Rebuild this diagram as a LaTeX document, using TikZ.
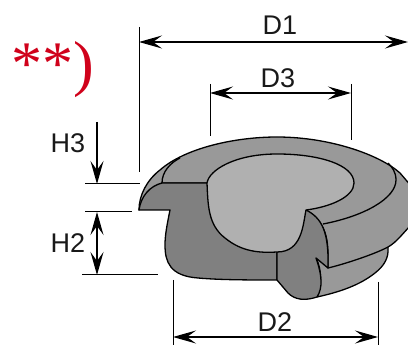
\documentclass[tikz,border=0pt]{standalone}
\usepackage{fontspec}
\setmainfont{Liberation Sans}
\newfontfamily\serifstar{Liberation Serif}
\usetikzlibrary{arrows.meta}
\definecolor{rimgray}{HTML}{999999}
\definecolor{cutgray}{HTML}{808080}
\definecolor{innergray}{HTML}{B0B0B0}
\definecolor{markred}{HTML}{D0021B}
\tikzset{
 part/.style={draw=black,line width=1.3pt,line join=round},
 thinline/.style={draw=black,line width=1pt},
 dimtip/.tip={Stealth[length=23pt,width=13pt,inset=9pt]},
 dimline/.style={draw=black,line width=1.1pt,dimtip-dimtip},
 onearrow/.style={draw=black,line width=1.1pt,-dimtip},
 lab/.style={font=\fontsize{27}{27}\selectfont,text=black!90,inner sep=0pt},
}
\begin{document}
\begin{tikzpicture}[x=1pt,y=-1pt]
\useasboundingbox (0,0) rectangle (408,347);
\begin{scope}
\clip (0,0) rectangle (408,347);
% lower skirt (its top edge is hidden under the rim)
\path[part,fill=rimgray] (328,250) -- (388,235) -- (388,247)
  .. controls (389,258) and (384,266) .. (375,273) .. controls (360,285) and (340,292) .. (317,297)
  .. controls (322,285) and (322,270) .. (316,258) -- cycle;
% rim
\path[part,fill=rimgray] (139,210) .. controls (139,195) and (147,180) .. (160,170)
  .. controls (185,148) and (235,137) .. (277,137)
  .. controls (330,137) and (380,155) .. (400,173) -- (412,187) -- (412,224)
  .. controls (403,233) and (397,242) .. (388,247)
  .. controls (375,254) and (345,264) .. (328,268)
  .. controls (328,245) and (330,225) .. (306,210) -- (207,183) -- (162,183) -- cycle;
% left section
\path[part,fill=cutgray] (139,210) -- (170,210) .. controls (167,225) and (165,235) .. (165,245)
  .. controls (165,262) and (170,276) .. (198,278) .. controls (220,280) and (250,280) .. (277,280)
  -- (277,252) -- (240,215) -- (207,183) -- (162,183)
  .. controls (150,186) and (141,196) .. (139,210) -- cycle;
% right section
\path[part,fill=cutgray] (306,210) .. controls (322,218) and (329,232) .. (328,268)
  -- (316,258) .. controls (322,275) and (323,288) .. (317,297)
  .. controls (305,301) and (295,300) .. (288,293) -- (277,280) -- (277,252) -- cycle;
% inner surface
\path[part,fill=innergray] (207,183) .. controls (209,170) and (235,154) .. (277,154)
  .. controls (320,154) and (354,165) .. (354,183)
  .. controls (354,197) and (330,207) .. (306,210)
  .. controls (303,225) and (302,252) .. (277,252)
  .. controls (260,253) and (242,252) .. (225,238)
  .. controls (208,225) and (208,205) .. (207,183) -- cycle;
% rim inner edges
\draw[part] (162,183) .. controls (162,172) and (170,163) .. (180,158);
\draw[part] (323,224) .. controls (365,216) and (396,198) .. (396,180) .. controls (396,172) and (392,167) .. (388,163);
\end{scope}
% extension lines
\coordinate (e1a) at (139,27); \coordinate (e1b) at (139,172);
\coordinate (e2a) at (210,84); \coordinate (e2b) at (210,136);
\coordinate (e3a) at (351,84); \coordinate (e3b) at (351,140);
\coordinate (e4a) at (173,280); \coordinate (e4b) at (173,345);
\coordinate (e5a) at (378,282); \coordinate (e5b) at (378,345);
\coordinate (t1a) at (85,184); \coordinate (t1b) at (140,184);
\coordinate (t2a) at (85,212); \coordinate (t2b) at (132,212);
\coordinate (t3a) at (82,275); \coordinate (t3b) at (158,275);
\foreach \p/\q in {e1a/e1b,e2a/e2b,e3a/e3b,e4a/e4b,e5a/e5b,t1a/t1b,t2a/t2b,t3a/t3b}
  \draw[thinline] (\p) -- (\q);
% dimensions
\coordinate (d1a) at (139,42); \coordinate (d1b) at (408,42);
\coordinate (d3a) at (210,93); \coordinate (d3b) at (351,93);
\coordinate (d2a) at (173,337); \coordinate (d2b) at (378,337);
\coordinate (h3a) at (97,122); \coordinate (h3b) at (97,184);
\coordinate (h2a) at (97,212); \coordinate (h2b) at (97,275);
\draw[dimline] (d1a) -- (d1b);
\draw[dimline] (d3a) -- (d3b);
\draw[dimline] (d2a) -- (d2b);
\draw[dimline] (h2a) -- (h2b);
\draw[onearrow] (h3a) -- (h3b);
% labels
\node[lab] (ld1) at (280,25) {D1};
\node[lab] (ld3) at (278,78) {D3};
\node[lab] (ld2) at (275,322) {D2};
\node[lab] (lh3) at (68,143) {H3};
\node[lab] (lh2) at (68,243) {H2};
\node[inner sep=0pt,anchor=base west,text=markred,font=\serifstar\fontsize{62}{62}\selectfont] (mark) at (11,85) {**)};
\end{tikzpicture}
\end{document}
